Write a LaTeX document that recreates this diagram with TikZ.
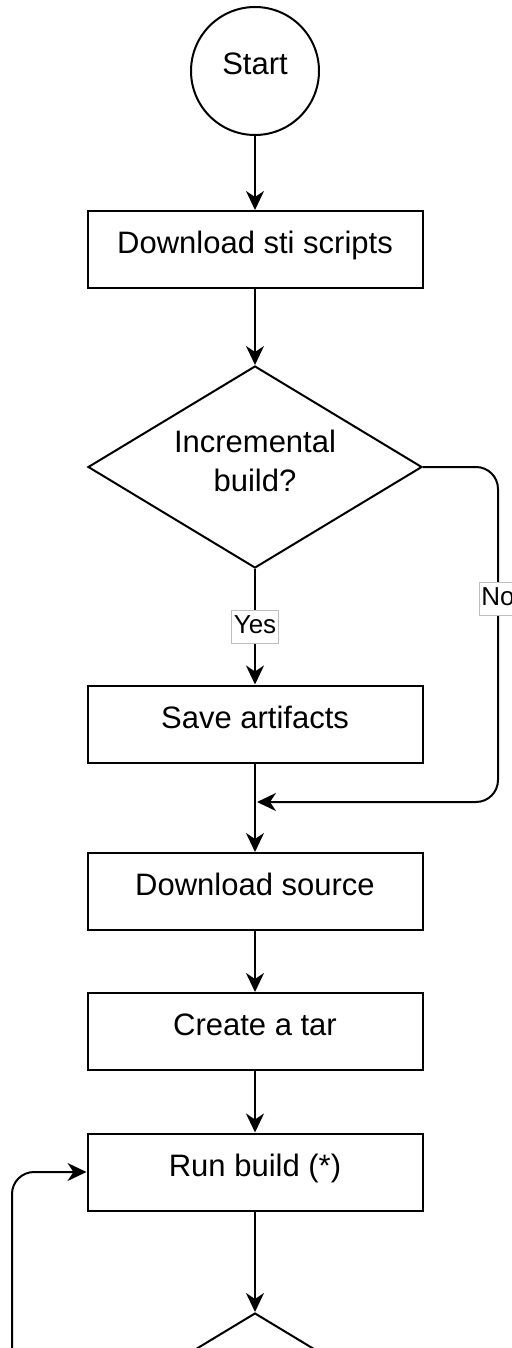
\documentclass[tikz,border=0pt]{standalone}
\usepackage{fontspec}
\setmainfont{Liberation Sans}
\usetikzlibrary{arrows.meta,shapes.geometric}
\begin{document}
\begin{tikzpicture}[x=1pt,y=-1pt,
  every node/.style={font=\fontsize{31}{39}\selectfont},
  proc/.style={draw, line width=2pt, rectangle, minimum width=335pt, minimum height=77pt, inner sep=0pt, text height=22pt, text depth=14pt},
  startnode/.style={draw, line width=2pt, circle, minimum size=128pt, inner sep=0pt, text height=22pt, text depth=14pt},
  decision/.style={draw, line width=2pt, diamond, aspect=1.65, minimum width=334pt, minimum height=202pt, inner sep=0pt, align=center},
  flow/.style={line width=2pt, -{Stealth[length=19pt,width=18pt,inset=6pt]}},
  edgelabel/.style={font=\fontsize{26}{30}\selectfont, fill=white, draw=gray!50, line width=1pt, inner xsep=2pt, inner ysep=0pt, minimum height=33pt, text height=19pt, text depth=6pt}
]
\fill[white] (0,0) rectangle (511,1348);
\useasboundingbox (0,0) rectangle (511,1348);

\node[startnode] (start) at (255,71) {Start};
\node[proc] (dl) at (255,249.5) {Download sti scripts};
\node[decision] (dec) at (255,467) {Incremental\\build?\rule[-12pt]{0pt}{0pt}};
\node[proc] (save) at (255,724) {Save artifacts};
\node[proc] (src) at (255,891.5) {Download source};
\node[proc] (tar) at (255,1031.5) {Create a tar};
\node[proc] (run) at (255,1172) {Run build (*)};
\node[decision] (dec2) at (255,1414) {};

\coordinate (merge) at (257,802);
\coordinate (nocorner) at (498,802);
\coordinate (loopcorner) at (12,1172);

\draw[flow] (start) -- (dl);
\draw[flow] (dl) -- (dec);
\draw[flow] (dec) -- node[edgelabel] (yeslabel) {Yes} (save);
\draw[flow] (save) -- (src);
\draw[flow] (src) -- (tar);
\draw[flow] (tar) -- (run);
\draw[flow] (run) -- (dec2);
\draw[flow, rounded corners=22pt] (dec.east) -| (nocorner) -- (merge);
\node[edgelabel] (nolabel) at (498,599) {No};
\draw[flow, rounded corners=22pt] (dec2.west) -| (loopcorner) -- (run.west);
\end{tikzpicture}
\end{document}
